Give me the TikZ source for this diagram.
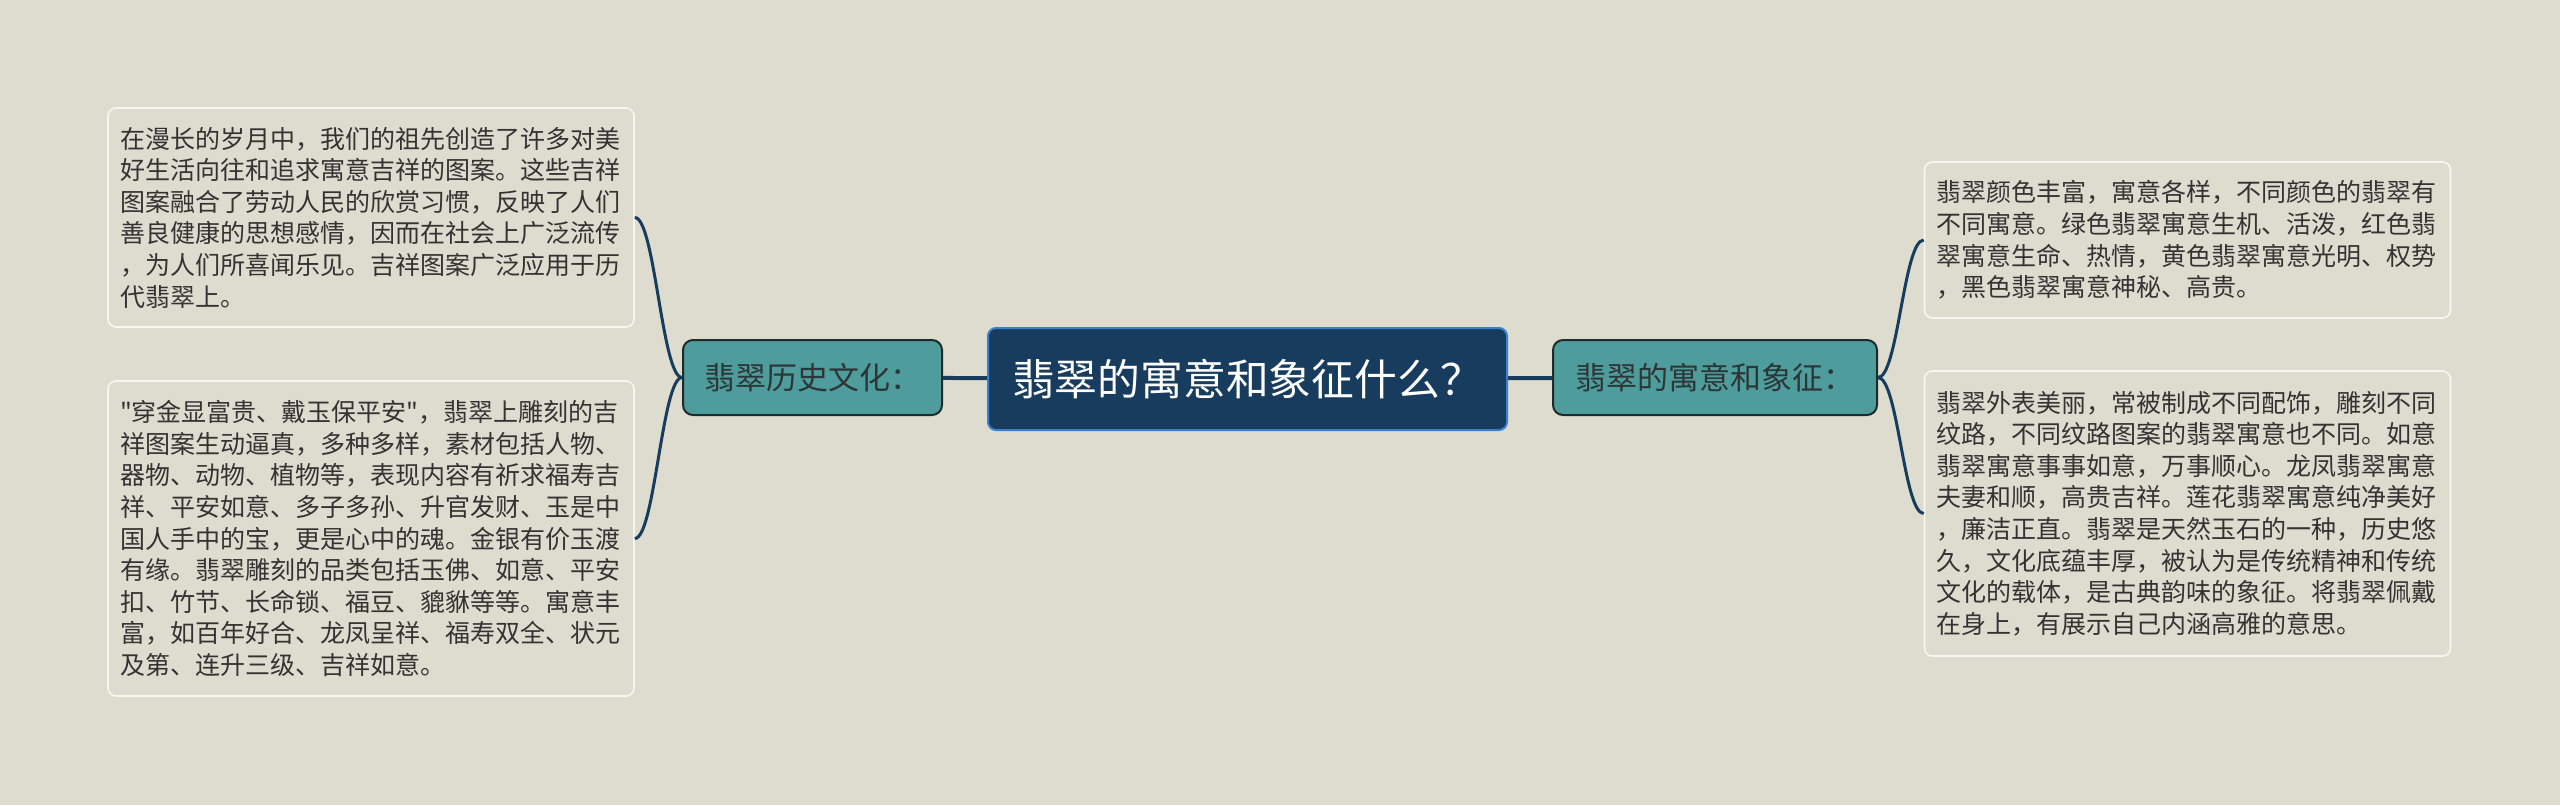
\documentclass[tikz,border=0pt]{standalone}
\usepackage{fontspec}
\newfontfamily\cjk{Noto Sans CJK SC}
\definecolor{paper}{HTML}{DEDCCE}
\definecolor{rootfill}{HTML}{173C5D}
\definecolor{rootedge}{HTML}{3C7FD1}
\definecolor{topicfill}{HTML}{4E9C9C}
\definecolor{topicedge}{HTML}{1E2B2B}
\definecolor{topictext}{HTML}{2D3636}
\definecolor{leafedge}{HTML}{F7F7F2}
\definecolor{leaftext}{HTML}{333333}
\definecolor{linkcolor}{HTML}{173C5D}
\tikzset{
	root/.style={
		draw=rootedge,
		fill=rootfill,
		line width=1pt,
		rounded corners=4pt,
		text=white,
		font=\cjk\fontsize{21.4pt}{25pt}\selectfont,
		minimum width=259.5pt,
		minimum height=51pt,
		inner sep=0pt,
	},
	topic/.style={
		draw=topicedge,
		fill=topicfill,
		line width=1pt,
		rounded corners=5pt,
		text=topictext,
		font=\cjk\fontsize{15.5pt}{18pt}\selectfont,
		minimum height=37.5pt,
		inner sep=0pt,
	},
	leaf/.style={
		draw=leafedge,
		fill=paper,
		line width=0.8pt,
		rounded corners=4pt,
		text=leaftext,
		font=\cjk\fontsize{12.5pt}{15.8pt}\selectfont,
		text width=251pt,
		align=left,
		inner xsep=6pt,
		inner ysep=0pt,
	},
	trunk/.style={
		draw=linkcolor,
		line width=2pt,
	},
	link/.style={
		draw=linkcolor,
		line width=1.5pt,
	},
}

\begin{document}
\begin{tikzpicture}[x=0.5pt,y=-0.5pt]
		\fill[paper] (0,0) rectangle (2560,805);
		\useasboundingbox (0,0) rectangle (2560,805);

		\node[root]     			(root) at (1247.5,379) {翡翠的寓意和象征什么？};

		\node[topic, minimum width=129.5pt] 	(hist) at (812.5,377.5) {翡翠历史文化：};
		\node[topic, minimum width=162pt] 		(mean) at (1715,377.5) {翡翠的寓意和象征：};

		\draw[trunk] 			(hist) -- (root);
		\draw[trunk] 			(root) -- (mean);

%*********

		\node[leaf, minimum height=109.5pt] (histA) at (371,217.5) {在漫长的岁月中，我们的祖先创造了许多对美\\
好生活向往和追求寓意吉祥的图案。这些吉祥\\
图案融合了劳动人民的欣赏习惯，反映了人们\\
善良健康的思想感情，因而在社会上广泛流传\\
，为人们所喜闻乐见。吉祥图案广泛应用于历\\
代翡翠上。};
		\node[leaf, minimum height=157.5pt] (histB) at (371,538.5) {"穿金显富贵、戴玉保平安"，翡翠上雕刻的吉\\
祥图案生动逼真，多种多样，素材包括人物、\\
器物、动物、植物等，表现内容有祈求福寿吉\\
祥、平安如意、多子多孙、升官发财、玉是中\\
国人手中的宝，更是心中的魂。金银有价玉渡\\
有缘。翡翠雕刻的品类包括玉佛、如意、平安\\
扣、竹节、长命锁、福豆、貔貅等等。寓意丰\\
富，如百年好合、龙凤呈祥、福寿双全、状元\\
及第、连升三级、吉祥如意。};

		\draw[link] 			(hist.west) .. controls +(-20,0) and +(20,0) .. (histA.east);
		\draw[link] 			(hist.west) .. controls +(-20,0) and +(20,0) .. (histB.east);

%*********

		\node[leaf, minimum height=78pt] (meanA) at (2187.5,240) {翡翠颜色丰富，寓意各样，不同颜色的翡翠有\\
不同寓意。绿色翡翠寓意生机、活泼，红色翡\\
翠寓意生命、热情，黄色翡翠寓意光明、权势\\
，黑色翡翠寓意神秘、高贵。};
		\node[leaf, minimum height=142.5pt] (meanB) at (2187.5,513.5) {翡翠外表美丽，常被制成不同配饰，雕刻不同\\
纹路，不同纹路图案的翡翠寓意也不同。如意\\
翡翠寓意事事如意，万事顺心。龙凤翡翠寓意\\
夫妻和顺，高贵吉祥。莲花翡翠寓意纯净美好\\
，廉洁正直。翡翠是天然玉石的一种，历史悠\\
久，文化底蕴丰厚，被认为是传统精神和传统\\
文化的载体，是古典韵味的象征。将翡翠佩戴\\
在身上，有展示自己内涵高雅的意思。};

		\draw[link] 			(mean.east) .. controls +(20,0) and +(-20,0) .. (meanA.west);
		\draw[link] 			(mean.east) .. controls +(20,0) and +(-20,0) .. (meanB.west);

	\end{tikzpicture}
\end{document}
